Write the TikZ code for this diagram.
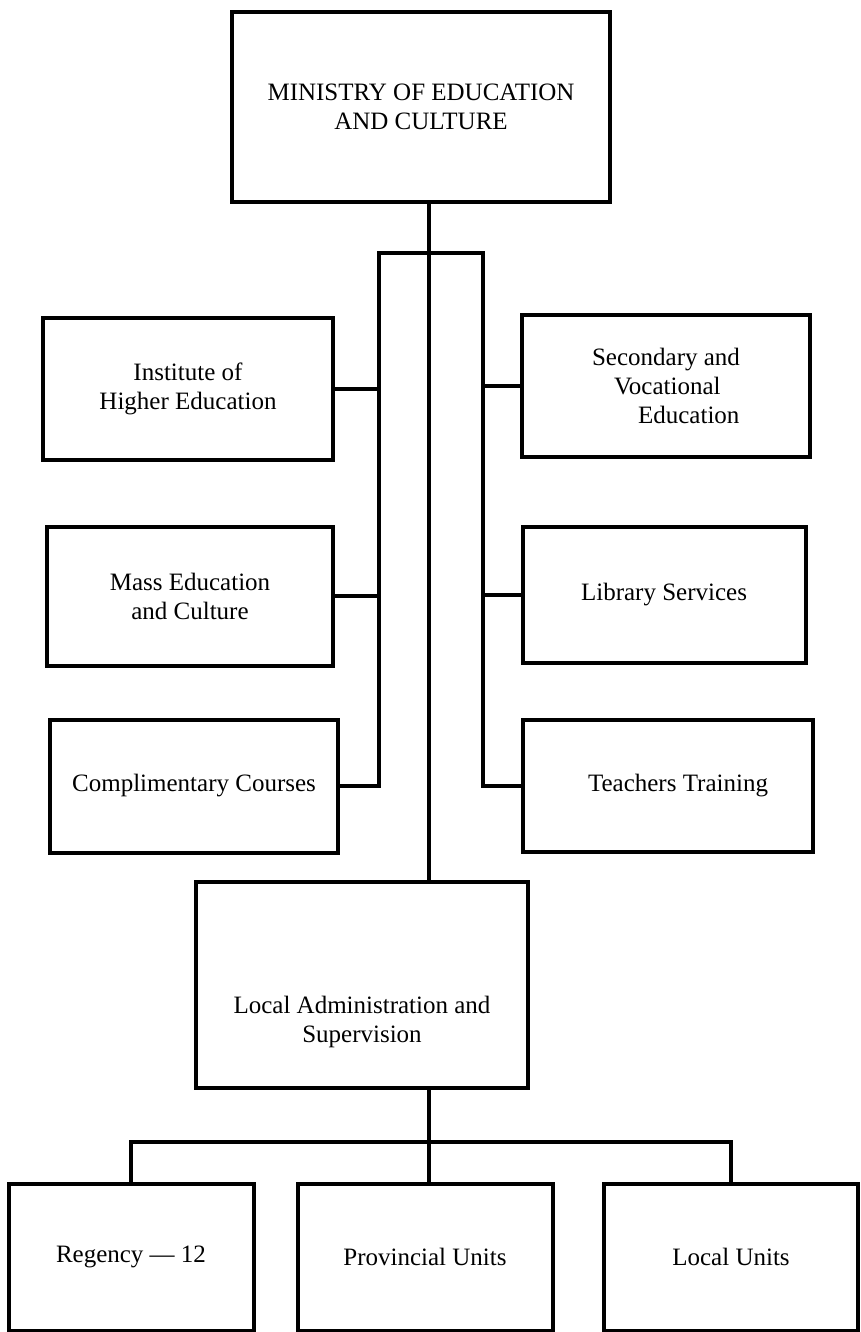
\documentclass[tikz,border=0pt]{standalone}
\usepackage{fontspec}
\setmainfont{Liberation Serif}
\begin{document}
\begin{tikzpicture}[x=1pt, y=-1pt,
  box/.style={draw, line width=4pt, align=center, inner sep=0pt, font=\fontsize{25}{29}\selectfont},
  txt/.style={align=center, inner sep=0pt, font=\fontsize{25}{29}\selectfont},
  link/.style={line width=3.5pt}]
\useasboundingbox (0,0) rectangle (861,1332);

% top
\node[box, minimum width=378pt, minimum height=190pt] (ministry) at (421,107) {MINISTRY OF EDUCATION\\AND CULTURE};

% left column
\node[box, minimum width=290pt, minimum height=142pt] (inst) at (188,389) {Institute of\\Higher Education};
\node[box, minimum width=286pt, minimum height=139pt] (mass) at (190,596) {Mass Education\\and Culture};
\node[box, minimum width=288pt, minimum height=133pt] (compl) at (194,786) {Complimentary Courses};

% right column
\node[box, align=left, minimum width=288pt, minimum height=142pt] (second) at (666,386) {Secondary and\\\hspace*{22pt}Vocational\\\hspace*{46pt}Education};
\node[box, minimum width=283pt, minimum height=136pt] (library) at (664,595) {Library Services};
\node[box, minimum width=290pt, minimum height=132pt] (teach) at (668,786) {\hspace*{20pt}Teachers Training};

% local administration
\node[box, minimum width=332pt, minimum height=206pt] (admin) at (362,985) {};
\node[txt] (admintxt) at (362,1022) {Local Administration and\\Supervision};

% bottom row
\node[box, minimum width=245pt, minimum height=147pt] (regency) at (131,1257) {Regency --- 12};
\node[box, minimum width=255pt, minimum height=147pt] (prov) at (425,1257) {Provincial Units};
\node[box, minimum width=254pt, minimum height=147pt] (localu) at (731,1257) {Local Units};

\coordinate (tk) at (429,0);
\coordinate (lrail) at (379,253);
\coordinate (rrail) at (483,253);
\coordinate (bar) at (429,1142);

% trunk
\draw[link] (ministry.south -| tk) -- (admin.north -| tk);
\draw[link] (compl.east) -| (lrail) -- (rrail) |- (teach.west);
\draw[link] (inst.east) -- (inst.east -| lrail);
\draw[link] (mass.east) -- (mass.east -| lrail);
\draw[link] (second.west) -- (second.west -| rrail);
\draw[link] (library.west) -- (library.west -| rrail);

% lower branches
\draw[link] (admin.south -| tk) -- (prov.north -| tk);
\draw[link] (regency.north) |- (bar) -| (localu.north);

\end{tikzpicture}
\end{document}
